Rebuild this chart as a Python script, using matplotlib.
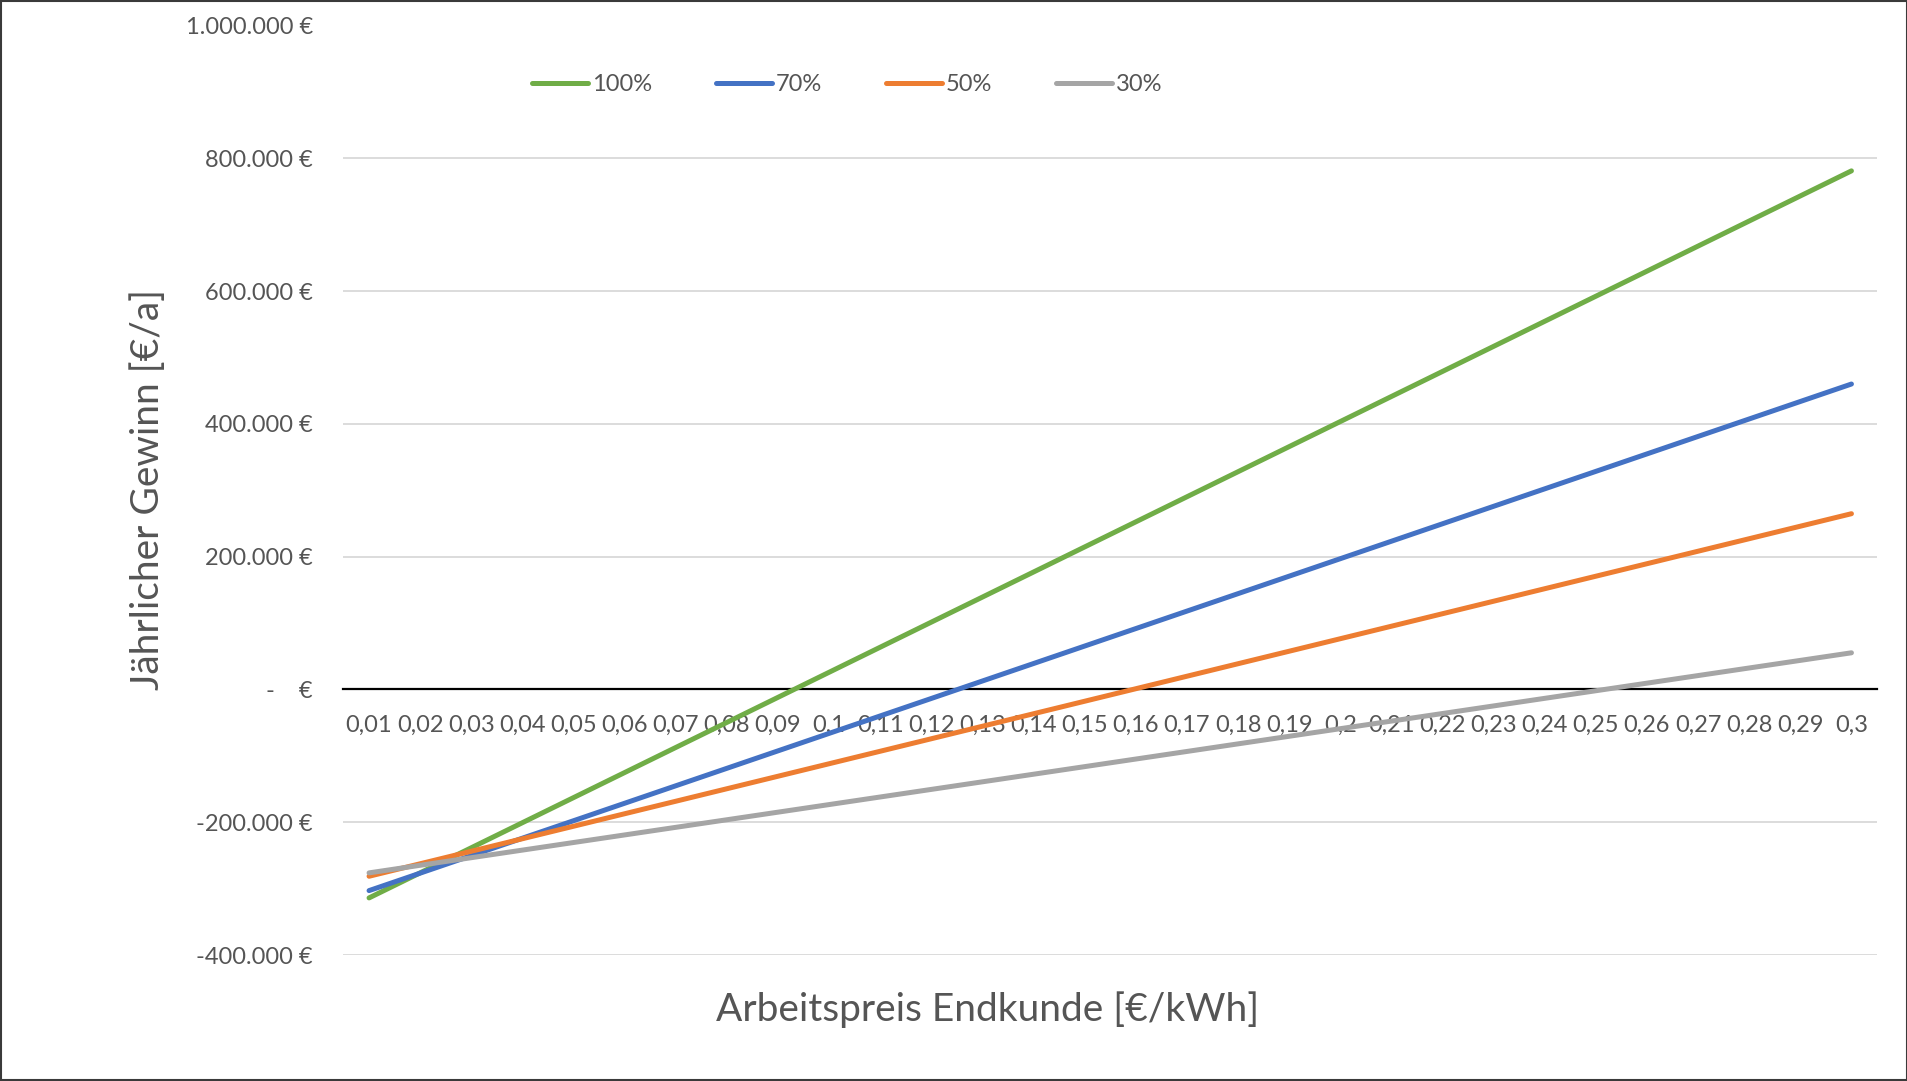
import matplotlib
matplotlib.use("Agg")
import matplotlib.pyplot as plt
import numpy as np
from matplotlib.patches import Rectangle
from matplotlib.ticker import FuncFormatter

# Arbeitspreis Endkunde [€/kWh]
preise = [0.01, 0.02, 0.03, 0.04, 0.05, 0.06, 0.07, 0.08, 0.09, 0.1,
          0.11, 0.12, 0.13, 0.14, 0.15, 0.16, 0.17, 0.18, 0.19, 0.2,
          0.21, 0.22, 0.23, 0.24, 0.25, 0.26, 0.27, 0.28, 0.29, 0.3]

# Jaehrlicher Gewinn in Tsd. €
gewinn_100 = [-314.0, -276.24, -238.48, -200.72, -162.96, -125.2, -87.44, -49.68, -11.92, 25.84,
              63.6, 101.36, 139.12, 176.88, 214.64, 252.4, 290.16, 327.92, 365.68, 403.44,
              441.2, 478.96, 516.72, 554.48, 592.24, 630.0, 667.76, 705.52, 743.28, 781.04]
gewinn_70 = [-303.0, -276.69, -250.38, -224.07, -197.76, -171.45, -145.14, -118.83, -92.52, -66.21,
             -39.9, -13.59, 12.72, 39.03, 65.34, 91.65, 117.96, 144.27, 170.58, 196.89,
             223.2, 249.51, 275.82, 302.13, 328.44, 354.75, 381.06, 407.37, 433.68, 459.99]
gewinn_50 = [-281.4, -262.57, -243.74, -224.91, -206.08, -187.25, -168.42, -149.59, -130.76, -111.93,
             -93.1, -74.27, -55.44, -36.61, -17.78, 1.05, 19.88, 38.71, 57.54, 76.37,
             95.2, 114.03, 132.86, 151.69, 170.52, 189.35, 208.18, 227.01, 245.84, 264.67]
gewinn_30 = [-276.3, -264.87, -253.44, -242.01, -230.58, -219.15, -207.72, -196.29, -184.86, -173.43,
             -162.0, -150.57, -139.14, -127.71, -116.28, -104.85, -93.42, -81.99, -70.56, -59.13,
             -47.7, -36.27, -24.84, -13.41, -1.98, 9.45, 20.88, 32.31, 43.74, 55.17]

namen = ["100%", "70%", "50%", "30%"]
farben = ["#70AD47", "#4472C4", "#ED7D31", "#A5A5A5"]

plt.rcParams['font.family'] = ['Lato', 'DejaVu Sans']
grau_text = "#555555"

W, H = 1908, 1081
fig = plt.figure(figsize=(W / 100, H / 100), dpi=100)
ax = fig.add_axes([343.5 / W, 1 - 955 / H, (1877 - 343.5) / W, (955 - 25.5) / H])

x = np.arange(len(preise))
for werte, farbe, name in zip([gewinn_100, gewinn_70, gewinn_50, gewinn_30], farben, namen):
    ax.plot(x, np.array(werte) * 1000, color=farbe, lw=3.6, solid_capstyle='round',
            label=name, zorder=3)

ax.set_xlim(-0.5, len(preise) - 0.5)
ax.set_ylim(-400000, 1000000)
ax.set_yticks(np.arange(-400000, 1000001, 200000))


def euro(v, pos):
    if abs(v) < 1:
        return "-    €"
    return f"{v:,.0f} €".replace(",", ".")


ax.yaxis.set_major_formatter(FuncFormatter(euro))
ax.set_xticks(x)
ax.set_xticklabels([f"{p:g}".replace(".", ",") for p in preise])
ax.tick_params(axis='both', length=0, labelsize=17, labelcolor=grau_text)
ax.tick_params(axis='x', pad=18)
ax.tick_params(axis='y', pad=22)

for s in ['top', 'right', 'left']:
    ax.spines[s].set_visible(False)
ax.spines['bottom'].set_position(('data', 0))
ax.spines['bottom'].set_color('black')
ax.spines['bottom'].set_linewidth(1.6)
ax.grid(axis='y', color='#D9D9D9', lw=1.3)
ax.set_axisbelow(True)

fig.text(148 / W, 1 - 490 / H, "Jährlicher Gewinn [€/a]", rotation=90,
         ha='center', va='center', fontsize=28, color=grau_text)
fig.text(988 / W, 1 - 1010 / H, "Arbeitspreis Endkunde [€/kWh]",
         ha='center', va='center', fontsize=28, color=grau_text)

fig.legend(loc='center left', bbox_to_anchor=(532 / W, 1 - 84.5 / H), ncol=4,
           frameon=False, fontsize=17, labelcolor=grau_text,
           handlelength=2.37, handletextpad=0.17, columnspacing=2.7,
           borderpad=0, borderaxespad=0)

fig.add_artist(Rectangle((0.0005, 0.0008), 0.999, 0.9985, transform=fig.transFigure,
                         fill=False, edgecolor='#3a3a3a', lw=1.5))

fig.savefig("out.png", dpi=100)
